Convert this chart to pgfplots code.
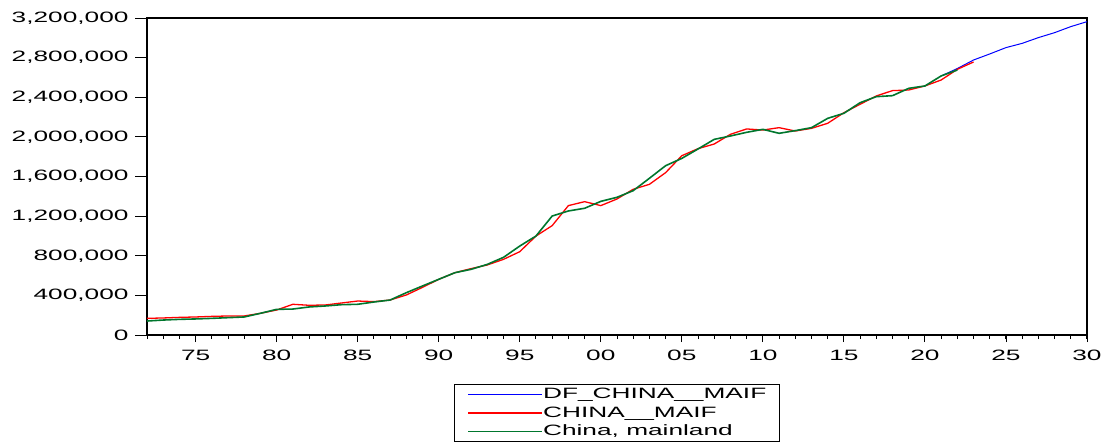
\documentclass[border=0pt]{standalone}
\usepackage{pgfplots}
\pgfplotsset{compat=1.18}
\usepackage{fontspec}
\setmainfont[FakeStretch=1.75]{Liberation Sans}
\definecolor{dfblue}{RGB}{0,0,255}
\definecolor{cmred}{RGB}{255,0,0}
\definecolor{cmgreen}{RGB}{0,118,45}
\begin{document}
\begin{tikzpicture}[font=\fontsize{15.06pt}{18pt}\selectfont]
\begin{axis}[
  at={(0,0)}, anchor=south west,
  scale only axis, width=940bp, height=317bp,
  xmin=1972, xmax=2030, ymin=0, ymax=3200000,
  axis line style={line width=1.2bp, black},
  tick style={black, line width=0.9bp},
  tick align=outside,
  xtick pos=bottom, ytick pos=left,
  xtick={1975,1980,...,2030},
  xticklabels={75,80,85,90,95,00,05,10,15,20,25,30},
  minor xtick={1972,...,2030},
  major tick length=7bp, minor tick length=4bp,
  y tick style={/pgfplots/major tick length=12bp},
  ytick={0,400000,800000,1200000,1600000,2000000,2400000,2800000,3200000},
  yticklabels={0,{400,000},{800,000},{1,200,000},{1,600,000},{2,000,000},{2,400,000},{2,800,000},{3,200,000}},
  scaled y ticks=false,
  /pgf/number format/assume math mode=true,
  yticklabel style={xshift=-8bp},
  xticklabel style={yshift=-5bp},
  legend style={at={(0.3266,-0.1546)}, anchor=north west, draw=black, line width=1bp,
    inner xsep=13bp, inner ysep=3bp, row sep=4.5bp,
    nodes={inner sep=0pt, text height=11bp, text depth=3bp, line width=1bp}},
  legend cell align=left,
  legend image code/.code={\draw[#1] (0bp,0bp) -- (60bp,0bp); \path (0bp,0bp) -- (74bp,0bp);},
]
\addplot[dfblue, line width=1bp] coordinates {
(2021,2615000) (2022,2690000) (2023,2776000) (2024,2837000) (2025,2901000)
(2026,2944000) (2027,3002000) (2028,3052000) (2029,3113000) (2030,3163000)
};
\addlegendentry{DF\_CHINA\_\_MAIF}
\addplot[cmred, line width=1.3bp] coordinates {
(1972,168000) (1973,172000) (1974,178000) (1975,182000) (1976,188000)
(1977,192000) (1978,192000) (1979,219000) (1980,252000) (1981,310000)
(1982,300000) (1983,303000) (1984,323000) (1985,343000) (1986,337000)
(1987,353000) (1988,404000) (1989,481000) (1990,562000) (1991,629000)
(1992,670000) (1993,707000) (1994,764000) (1995,841000) (1996,999000)
(1997,1104000) (1998,1306000) (1999,1346000) (2000,1306000) (2001,1373000)
(2002,1471000) (2003,1521000) (2004,1639000) (2005,1810000) (2006,1881000)
(2007,1928000) (2008,2026000) (2009,2080000) (2010,2069000) (2011,2093000)
(2012,2059000) (2013,2086000) (2014,2137000) (2015,2244000) (2016,2329000)
(2017,2413000) (2018,2467000) (2019,2473000) (2020,2514000) (2021,2574000)
(2022,2682000) (2023,2756000)
};
\addlegendentry{CHINA\_\_MAIF}
\addplot[cmgreen, line width=1.6bp] coordinates {
(1972,141000) (1973,151000) (1974,158000) (1975,162000) (1976,168000)
(1977,175000) (1978,182000) (1979,219000) (1980,259000) (1981,262000)
(1982,283000) (1983,293000) (1984,306000) (1985,310000) (1986,333000)
(1987,353000) (1988,427000) (1989,495000) (1990,562000) (1991,629000)
(1992,663000) (1993,713000) (1994,784000) (1995,898000) (1996,999000)
(1997,1201000) (1998,1252000) (1999,1279000) (2000,1349000) (2001,1390000)
(2002,1457000) (2003,1582000) (2004,1709000) (2005,1783000) (2006,1878000)
(2007,1975000) (2008,2009000) (2009,2046000) (2010,2076000) (2011,2036000)
(2012,2063000) (2013,2093000) (2014,2187000) (2015,2238000) (2016,2345000)
(2017,2406000) (2018,2416000) (2019,2490000) (2020,2514000) (2021,2615000)
(2022,2675000)
};
\addlegendentry{China, mainland}
\end{axis}
\pgfresetboundingbox
\useasboundingbox (-147bp,-107bp) rectangle (957bp,335bp);
\end{tikzpicture}
\end{document}
